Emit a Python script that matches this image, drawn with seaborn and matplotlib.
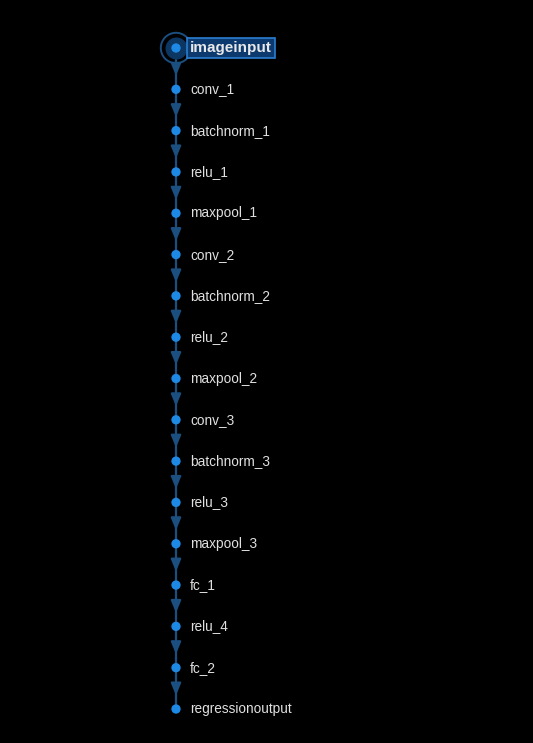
import matplotlib
matplotlib.use("Agg")
import matplotlib.pyplot as plt
import numpy as np
import pandas as pd
import seaborn as sns

sns.set_theme(style="dark")
plt.rcParams["font.family"] = ["Liberation Sans", "DejaVu Sans"]

LAYERS = [
    "imageinput", "conv_1", "batchnorm_1", "relu_1", "maxpool_1",
    "conv_2", "batchnorm_2", "relu_2", "maxpool_2",
    "conv_3", "batchnorm_3", "relu_3", "maxpool_3",
    "fc_1", "relu_4", "fc_2", "regressionoutput",
]
SELECTED = "imageinput"

df = pd.DataFrame({"layer": LAYERS, "depth": np.arange(len(LAYERS)), "x": 0.0})

fig = plt.figure(figsize=(5.33, 7.43), dpi=100, facecolor="black")
ax = fig.add_axes([0, 0, 1, 1])
ax.set_facecolor("black")
step = 41.31
ax.set_xlim(-176, 533 - 176)
ax.set_ylim(len(LAYERS) - 1 + (743 - 709) / step, -48 / step)
ax.axis("off")

edge_col = "#1b4f80"
node_col = "#1e88e5"
for i in range(len(LAYERS) - 1):
    ax.plot([0, 0], [i, i + 1], color=edge_col, lw=1.6, zorder=1)
    ax.annotate("", xy=(0, i + 0.74), xytext=(0, i + 0.45),
                arrowprops=dict(arrowstyle="-|>,head_length=0.6,head_width=0.25",
                                color=edge_col, lw=1.6), zorder=2)

sel = df[df["layer"] == SELECTED]
ax.scatter(sel["x"], sel["depth"], s=480, facecolor="none",
           edgecolor=edge_col, lw=1.4, zorder=2)
ax.scatter(sel["x"], sel["depth"], s=220, color="#0d3763", zorder=2)
sns.scatterplot(data=df, x="x", y="depth", ax=ax, color=node_col,
                s=45, edgecolor="none", zorder=3, legend=False)
ax.set_xlim(-176, 533 - 176)
ax.set_ylim(len(LAYERS) - 1 + (743 - 709) / step, -48 / step)
ax.axis("off")

for _, r in df.iterrows():
    if r["layer"] == SELECTED:
        ax.text(14, r["depth"], r["layer"], color="#e8e8e8", fontsize=11,
                fontweight="bold", va="center", ha="left", zorder=4,
                bbox=dict(boxstyle="square,pad=0.22", facecolor="#0d3a6e",
                          edgecolor="#2a7fd0", lw=1.2))
    else:
        ax.text(14, r["depth"], r["layer"], color="#e0e0e0", fontsize=9.8,
                va="center", ha="left", zorder=4)

fig.savefig("out.png", dpi=100, facecolor="black")
